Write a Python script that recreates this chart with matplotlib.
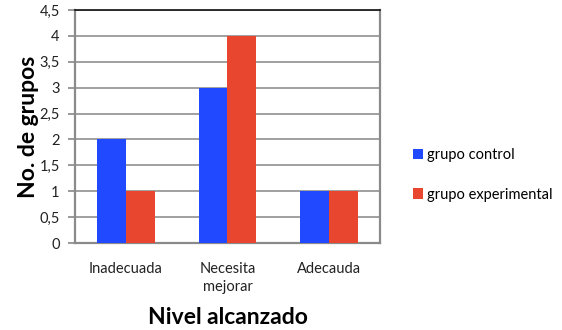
import matplotlib
matplotlib.use("Agg")
import matplotlib.pyplot as plt
import numpy as np

categories = ["Inadecuada", "Necesita\nmejorar", "Adecauda"]
grupo_control = [2, 3, 1]
grupo_experimental = [1, 4, 1]
series_names = ["grupo control", "grupo experimental"]
y_ticks = [0, 0.5, 1, 1.5, 2, 2.5, 3, 3.5, 4, 4.5]
y_tick_labels = ["0", "0,5", "1", "1,5", "2", "2,5", "3", "3,5", "4", "4,5"]

plt.rcParams["font.family"] = ["Lato", "DejaVu Sans"]

BLUE = "#2149FF"
RED = "#E8462E"

fig = plt.figure(figsize=(5.62, 3.30), dpi=100)
ax = fig.add_axes([0.1335, 0.2636, 0.5425, 0.7061])

x = np.arange(len(categories))
w = 0.284
b1 = ax.bar(x - w / 2, grupo_control, width=w, color=BLUE, label=series_names[0], zorder=3)
b2 = ax.bar(x + w / 2, grupo_experimental, width=w, color=RED, label=series_names[1], zorder=3)

ax.set_xlim(-0.5, 2.5)
ax.set_ylim(0, 4.5)
ax.set_yticks(y_ticks)
ax.set_yticklabels(y_tick_labels, fontsize=10.5, color="#222222")
ax.set_xticks(x)
ax.set_xticklabels(categories, fontsize=10.5, color="#222222", linespacing=1.35)
ax.tick_params(axis="x", length=0, pad=14)
ax.tick_params(axis="y", length=5, width=1.2, color="#888888", pad=6)

ax.yaxis.grid(True, color="#999999", linewidth=1.3, zorder=0)
ax.set_axisbelow(True)

for side in ["left", "bottom", "right"]:
    ax.spines[side].set_color("#8a8a8a")
    ax.spines[side].set_linewidth(1.6)
ax.spines["top"].set_color("#111111")
ax.spines["top"].set_linewidth(1.2)

ax.set_ylabel("No. de grupos", fontsize=16.5, fontweight="bold", labelpad=0)
ax.set_xlabel("Nivel alcanzado", fontsize=16.5, fontweight="bold", labelpad=9)

fig.legend(handles=[b1, b2], loc="center left", bbox_to_anchor=(0.711, 0.47),
           frameon=False, fontsize=10.5, handlelength=0.7, handleheight=0.7,
           handletextpad=0.3, labelspacing=1.75)

fig.savefig("out.png", dpi=100)
